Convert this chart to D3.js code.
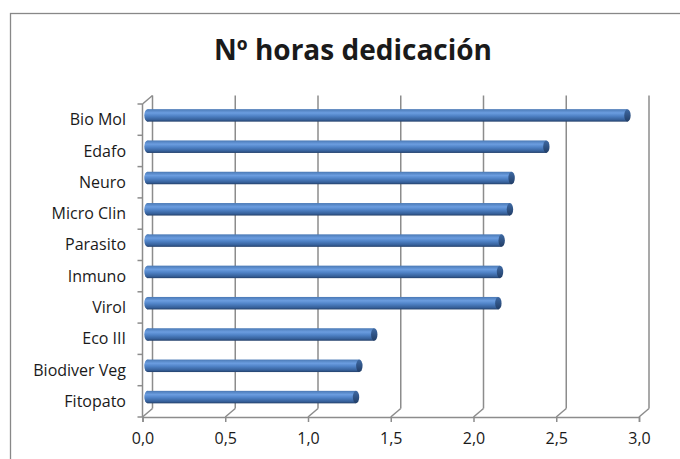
<!DOCTYPE html>
<html>
<head>
<meta charset="utf-8">
<script src="https://cdn.jsdelivr.net/npm/d3@7"></script>
<style>
  body { margin: 0; background: #fff; }
  svg text { font-family: "Open Sans", "Noto Sans", sans-serif; fill: #1a1a1a; }
</style>
</head>
<body>
<svg id="chart" width="680" height="459"></svg>
<script>
// data, top to bottom as drawn
var categories = ["Bio Mol", "Edafo", "Neuro", "Micro Clin", "Parasito", "Inmuno", "Virol", "Eco III", "Biodiver Veg", "Fitopato"];
var horas = [2.90, 2.41, 2.20, 2.19, 2.14, 2.13, 2.12, 1.37, 1.28, 1.26];
var xTicks = [0, 0.5, 1, 1.5, 2, 2.5, 3];
var title = "Nº horas dedicación";

var svg = d3.select("#chart");

// 3d depth offset of the back wall
var depthX = 10, depthY = -8.5;

var x = d3.scaleLinear().domain([0, 3]).range([142.5, 639]);
var y = d3.scaleBand().domain(categories).range([104, 417]);

var es = d3.formatLocale({decimal: ",", thousands: ".", grouping: [3], currency: ["", " €"]});
var fmt = es.format(".1f");

var axisColor = "#8c8c8c";

// chart border
svg.append("rect")
  .attr("x", 10.5).attr("y", 13.5)
  .attr("width", 700).attr("height", 500)
  .attr("fill", "none")
  .attr("stroke", "#888")
  .attr("stroke-width", 1.3);

svg.append("text")
  .attr("x", 353).attr("y", 60)
  .attr("text-anchor", "middle")
  .attr("font-size", 28)
  .attr("font-weight", "bold")
  .attr("fill", "#000")
  .text(title);

var defs = svg.append("defs");
var grad = defs.append("linearGradient")
  .attr("id", "cyl").attr("x1", 0).attr("y1", 0).attr("x2", 0).attr("y2", 1);
grad.append("stop").attr("offset", "0%").attr("stop-color", "#4a79b5");
grad.append("stop").attr("offset", "30%").attr("stop-color", "#6b9de0");
grad.append("stop").attr("offset", "55%").attr("stop-color", "#4f82c6");
grad.append("stop").attr("offset", "85%").attr("stop-color", "#36609a");
grad.append("stop").attr("offset", "100%").attr("stop-color", "#24406a");

var capGrad = defs.append("linearGradient")
  .attr("id", "cap").attr("x1", 0).attr("y1", 0).attr("x2", 0).attr("y2", 1);
capGrad.append("stop").attr("offset", "0%").attr("stop-color", "#3f6aa4");
capGrad.append("stop").attr("offset", "100%").attr("stop-color", "#213d66");

// back wall gridlines
var g = svg.append("g");
g.selectAll("line.grid")
  .data(xTicks)
  .enter().append("line")
    .attr("class", "grid")
    .attr("x1", function(d) { return x(d) + depthX; })
    .attr("x2", function(d) { return x(d) + depthX; })
    .attr("y1", y.range()[0] + depthY)
    .attr("y2", y.range()[1] + depthY)
    .attr("stroke", axisColor)
    .attr("stroke-width", 1.5);

// floor diagonals
g.selectAll("line.floor")
  .data(xTicks)
  .enter().append("line")
    .attr("class", "floor")
    .attr("x1", function(d) { return x(d); })
    .attr("y1", y.range()[1])
    .attr("x2", function(d) { return x(d) + depthX; })
    .attr("y2", y.range()[1] + depthY)
    .attr("stroke", axisColor)
    .attr("stroke-width", 1.5);

// left wall top diagonal + front left axis
g.append("line")
  .attr("x1", x(0)).attr("y1", y.range()[0])
  .attr("x2", x(0) + depthX).attr("y2", y.range()[0] + depthY)
  .attr("stroke", axisColor).attr("stroke-width", 1.5);
g.append("line")
  .attr("x1", x(0)).attr("y1", y.range()[0])
  .attr("x2", x(0)).attr("y2", y.range()[1])
  .attr("stroke", axisColor).attr("stroke-width", 1.5);

// category boundary ticks
var bounds = categories.map(function(c) { return y(c); }).concat([y.range()[1]]);
g.selectAll("line.ytick")
  .data(bounds)
  .enter().append("line")
    .attr("x1", x(0) - 5).attr("x2", x(0))
    .attr("y1", function(d) { return d; })
    .attr("y2", function(d) { return d; })
    .attr("stroke", axisColor).attr("stroke-width", 1.5);

// category labels
g.selectAll("text.cat")
  .data(categories)
  .enter().append("text")
    .attr("class", "cat")
    .attr("x", 126)
    .attr("y", function(d) { return y(d) + y.bandwidth() / 2; })
    .attr("dy", "0.35em")
    .attr("text-anchor", "end")
    .attr("font-size", 16)
    .text(function(d) { return d; });

// front x axis
var xAxis = d3.axisBottom(x).tickValues(xTicks).tickFormat(fmt).tickSize(5).tickPadding(11);
var ax = svg.append("g")
  .attr("transform", "translate(0," + y.range()[1] + ")")
  .call(xAxis);
ax.select(".domain").attr("stroke", axisColor).attr("stroke-width", 1.5);
ax.selectAll(".tick line").attr("stroke", axisColor).attr("stroke-width", 1.5);
ax.selectAll(".tick text")
  .attr("font-size", 16)
  .attr("font-family", "'Open Sans', sans-serif")
  .attr("fill", "#1a1a1a");

// cylinders
var barH = 12.5, capRx = 3.2;
var midX = function(v) { return x(v) + depthX / 2; };
var bars = svg.append("g").selectAll("g.bar")
  .data(categories)
  .enter().append("g")
    .attr("class", "bar")
    .attr("transform", function(d) {
      return "translate(0," + (y(d) + y.bandwidth() / 2 + depthY / 2 - barH / 2) + ")";
    });

bars.append("ellipse")
  .attr("cx", midX(0))
  .attr("cy", barH / 2)
  .attr("rx", capRx).attr("ry", barH / 2)
  .attr("fill", "url(#cyl)");

bars.append("rect")
  .attr("x", midX(0))
  .attr("y", 0)
  .attr("width", function(d, i) { return midX(horas[i]) - midX(0); })
  .attr("height", barH)
  .attr("fill", "url(#cyl)");

bars.append("ellipse")
  .attr("cx", function(d, i) { return midX(horas[i]); })
  .attr("cy", barH / 2)
  .attr("rx", capRx).attr("ry", barH / 2)
  .attr("fill", "url(#cap)");
</script>
</body>
</html>
